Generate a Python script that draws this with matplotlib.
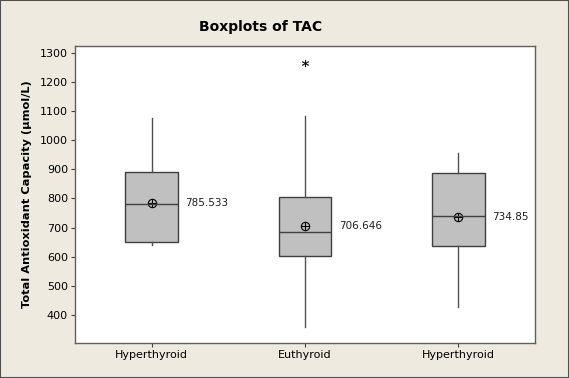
import matplotlib
matplotlib.use("Agg")
import matplotlib.pyplot as plt
from matplotlib.patches import Rectangle

# 数据
groups = ['Hyperthyroid', 'Euthyroid', 'Hyperthyroid']
q1 = [651, 601, 638]
medians = [782, 684, 741]
q3 = [892, 806, 887]
whisker_low = [640, 359, 429]
whisker_high = [1076, 1083, 957]
means = [785.533, 706.646, 734.85]
outliers = [[], [1264], []]
yticks = [400, 500, 600, 700, 800, 900, 1000, 1100, 1200, 1300]

bg = '#EEEAE0'
fig = plt.figure(figsize=(5.69, 3.78), dpi=100, facecolor=bg)
ax = fig.add_axes([75 / 569, 1 - 343 / 378, 460 / 569, 297 / 378])
ax.set_facecolor('white')

stats = []
for i in range(len(groups)):
    stats.append({
        'label': groups[i], 'q1': q1[i], 'med': medians[i], 'q3': q3[i],
        'whislo': whisker_low[i], 'whishi': whisker_high[i],
        'mean': means[i], 'fliers': outliers[i],
    })

positions = [1, 2, 3]
ax.bxp(stats, positions=positions, widths=0.344, patch_artist=True,
       showmeans=False, showcaps=False,
       boxprops=dict(facecolor='#C0C0C0', edgecolor='#404040', linewidth=1),
       medianprops=dict(color='#404040', linewidth=1),
       whiskerprops=dict(color='#505050', linewidth=1),
       flierprops=dict(marker='$*$', markersize=5, markeredgecolor='black',
                       markerfacecolor='black', markeredgewidth=0.2))

# 均值标记（⊕）
ax.plot(positions, means, linestyle='none', marker='o', markersize=6,
        markerfacecolor='none', markeredgecolor='black', markeredgewidth=0.8)
ax.plot(positions, means, linestyle='none', marker='+', markersize=6,
        markeredgecolor='black', markeredgewidth=0.8)
for x, m in zip(positions, means):
    ax.text(x + 0.22, m, f'{m:g}', fontsize=7.5, va='center', ha='left',
            color='#202020')

ax.set_xlim(0.5, 3.5)
ax.set_ylim(304, 1323)
ax.set_xticks(positions)
ax.set_xticklabels(groups, fontsize=8)
ax.set_yticks(yticks)
ax.set_yticklabels([str(t) for t in yticks], fontsize=8)
ax.tick_params(direction='out', length=3, color='#404040', pad=2)
for s in ax.spines.values():
    s.set_color('#606060')
    s.set_linewidth(1)

ax.set_ylabel('Total Antioxidant Capacity (\u00b5mol/L)', fontsize=8.2,
              fontweight='bold', labelpad=6)
fig.text(261 / 569, 1 - 27 / 378, 'Boxplots of TAC', fontsize=10,
         fontweight='bold', ha='center', va='center')

# 外框
fig.patches.append(Rectangle((0, 0), 1, 1, transform=fig.transFigure,
                             fill=False, edgecolor='#505050', linewidth=1.5))

fig.savefig('out.png', dpi=100, facecolor=bg)
